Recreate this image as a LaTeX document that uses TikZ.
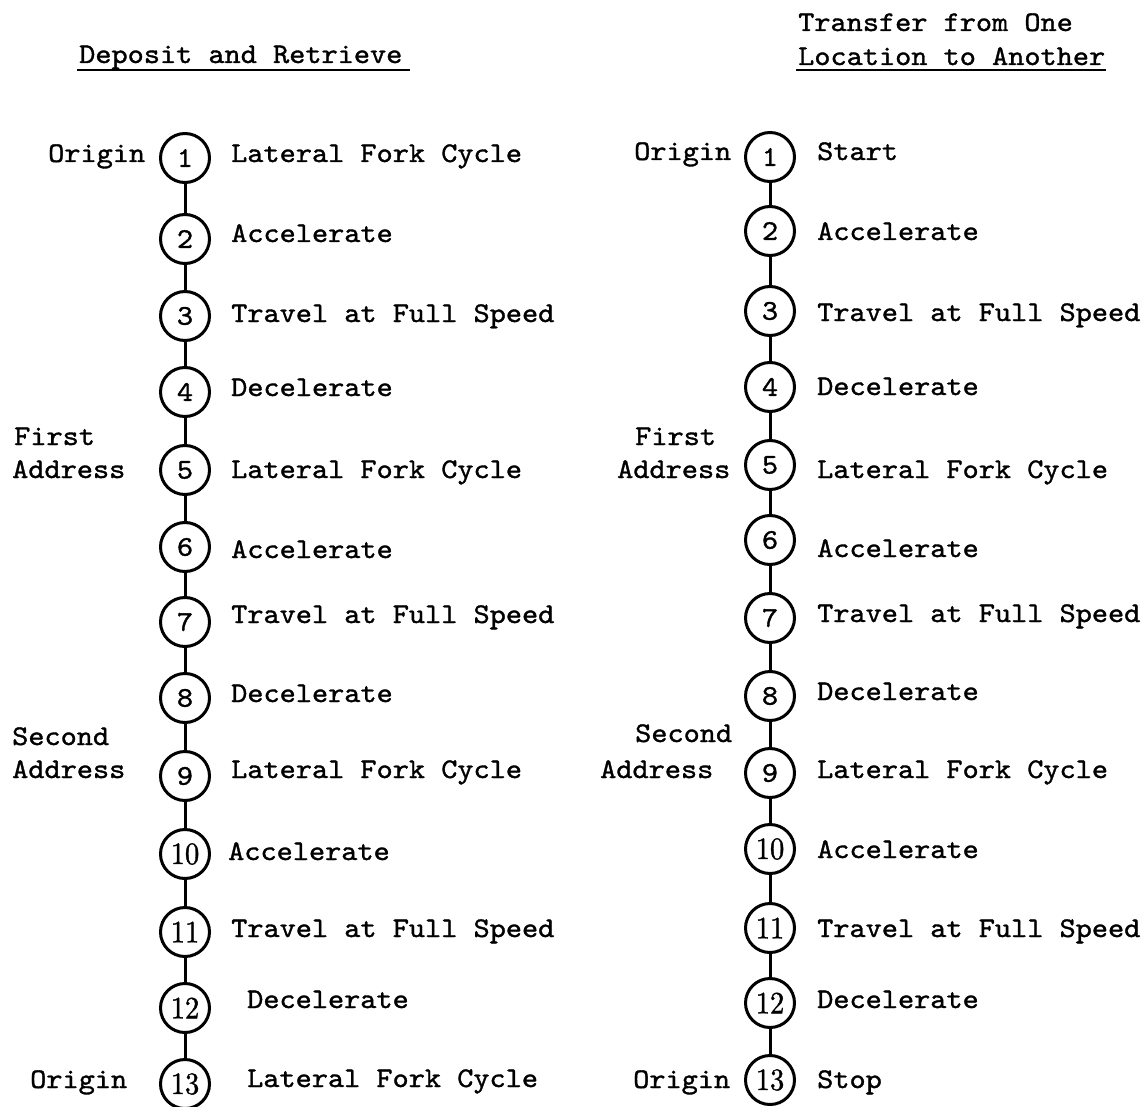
\documentclass[tikz,border=0pt]{standalone}
\usepackage{fontspec}
\newfontfamily\twf{lmmono10-regular.otf}[FakeBold=1.2,FakeStretch=1.08]
\newfontfamily\numf{lmroman10-regular.otf}[FakeBold=1.2,FakeStretch=0.92]
\begin{document}
\begin{tikzpicture}[x=1pt,y=-1pt,
  lab/.style={anchor=base west,inner sep=0pt,font=\fontsize{28.5}{34}\selectfont\twf},
  num/.style={circle,draw,line width=3pt,minimum size=49pt,inner sep=0pt,font=\fontsize{28.5}{34}\selectfont\twf},
  numr/.style={num,font=\fontsize{31}{34}\selectfont\numf},
  link/.style={line width=3pt},
  uline/.style={line width=2.2pt}]
\useasboundingbox (0,0) rectangle (1145,1107);
\clip (0,0) rectangle (1145,1107);

% ---------- Left column: Deposit and Retrieve ----------
\node[lab] (tl) at (79,63) {Deposit and Retrieve};
\coordinate (tlA) at (77,70);
\coordinate (tlB) at (410,70);
\draw[uline] (tlA) -- (tlB);

\node[num]  (L1)  at (185,158)  {1};
\node[num]  (L2)  at (185,239)  {2};
\node[num]  (L3)  at (185,316)  {3};
\node[num]  (L4)  at (185,392)  {4};
\node[num]  (L5)  at (185,470)  {5};
\node[num]  (L6)  at (185,547)  {6};
\node[num]  (L7)  at (185,622)  {7};
\node[num]  (L8)  at (185,698)  {8};
\node[num]  (L9)  at (185,776)  {9};
\node[numr] (L10) at (185,854)  {10};
\node[numr] (L11) at (185,932)  {11};
\node[numr] (L12) at (185,1008) {12};
\node[numr] (L13) at (185,1084) {13};
\foreach \a/\b in {1/2,2/3,3/4,4/5,5/6,6/7,7/8,8/9,9/10,10/11,11/12,12/13}
  \draw[link] (L\a) -- (L\b);

\node[lab] (lo1) at (48,162)  {Origin};
\node[lab] (lf1) at (14,445)  {First};
\node[lab] (lf2) at (12,478)  {Address};
\node[lab] (ls1) at (12,745)  {Second};
\node[lab] (ls2) at (12,778)  {Address};
\node[lab] (lo2) at (30,1088) {Origin};

\node[lab] (lt1)  at (231,162)  {Lateral Fork Cycle};
\node[lab] (lt2)  at (231,242)  {Accelerate};
\node[lab] (lt3)  at (231,322)  {Travel at Full Speed};
\node[lab] (lt4)  at (231,396)  {Decelerate};
\node[lab] (lt5)  at (231,478)  {Lateral Fork Cycle};
\node[lab] (lt6)  at (231,558)  {Accelerate};
\node[lab] (lt7)  at (231,623)  {Travel at Full Speed};
\node[lab] (lt8)  at (231,702)  {Decelerate};
\node[lab] (lt9)  at (231,778)  {Lateral Fork Cycle};
\node[lab] (lt10) at (228,860)  {Accelerate};
\node[lab] (lt11) at (231,937)  {Travel at Full Speed};
\node[lab] (lt12) at (247,1008) {Decelerate};
\node[lab] (lt13) at (247,1087) {Lateral Fork Cycle};

% ---------- Right column: Transfer ----------
\node[lab] (tr1) at (798,31) {Transfer from One};
\node[lab] (tr2) at (798,65) {Location to Another};
\coordinate (trA) at (796,70);
\coordinate (trB) at (1106,70);
\draw[uline] (trA) -- (trB);

\node[num]  (R1)  at (770,157)  {1};
\node[num]  (R2)  at (770,231)  {2};
\node[num]  (R3)  at (770,311)  {3};
\node[num]  (R4)  at (770,387)  {4};
\node[num]  (R5)  at (770,465)  {5};
\node[num]  (R6)  at (770,540)  {6};
\node[num]  (R7)  at (770,618)  {7};
\node[num]  (R8)  at (770,696)  {8};
\node[num]  (R9)  at (770,773)  {9};
\node[numr] (R10) at (770,849)  {10};
\node[numr] (R11) at (770,928)  {11};
\node[numr] (R12) at (770,1003) {12};
\node[numr] (R13) at (770,1080) {13};
\foreach \a/\b in {1/2,2/3,3/4,4/5,5/6,6/7,7/8,8/9,9/10,10/11,11/12,12/13}
  \draw[link] (R\a) -- (R\b);

\node[lab] (ro1) at (634,160)  {Origin};
\node[lab] (rf1) at (635,445)  {First};
\node[lab] (rf2) at (617,478)  {Address};
\node[lab] (rs1) at (635,742)  {Second};
\node[lab] (rs2) at (600,778)  {Address};
\node[lab] (ro2) at (633,1088) {Origin};

\node[lab] (rt1)  at (817,160)  {Start};
\node[lab] (rt2)  at (817,240)  {Accelerate};
\node[lab] (rt3)  at (817,321)  {Travel at Full Speed};
\node[lab] (rt4)  at (817,395)  {Decelerate};
\node[lab] (rt5)  at (817,478)  {Lateral Fork Cycle};
\node[lab] (rt6)  at (817,557)  {Accelerate};
\node[lab] (rt7)  at (817,622)  {Travel at Full Speed};
\node[lab] (rt8)  at (817,700)  {Decelerate};
\node[lab] (rt9)  at (817,778)  {Lateral Fork Cycle};
\node[lab] (rt10) at (817,858)  {Accelerate};
\node[lab] (rt11) at (817,937)  {Travel at Full Speed};
\node[lab] (rt12) at (817,1008) {Decelerate};
\node[lab] (rt13) at (817,1088) {Stop};
\end{tikzpicture}
\end{document}
